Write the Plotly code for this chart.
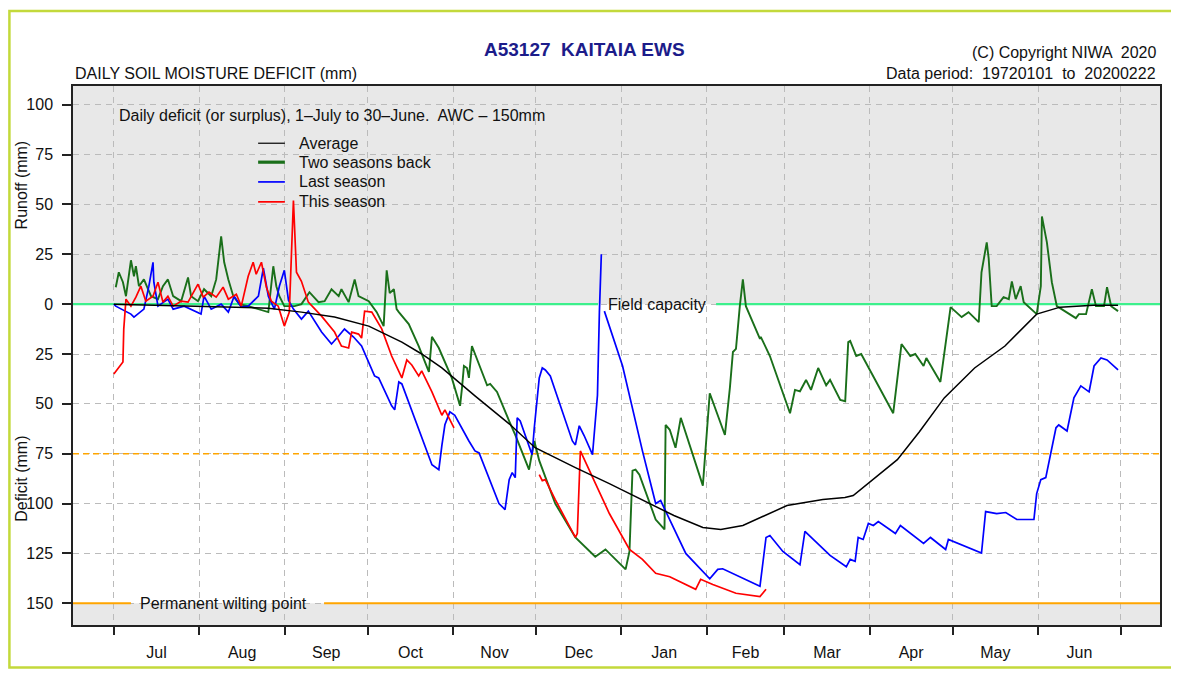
import plotly.graph_objects as go

# ---------------- data (days since 1 July, deficit negative / runoff positive) -------------
months = ["Jul", "Aug", "Sep", "Oct", "Nov", "Dec", "Jan", "Feb", "Mar", "Apr", "May", "Jun"]
month_len = [31, 31, 30, 31, 30, 31, 31, 28, 31, 30, 31, 30]

y_ticks = [-150, -125, -100, -75, -50, -25, 0, 25, 50, 75, 100]

series_names = ["Average", "Two seasons back", "Last season", "This season"]

avg_day = [0, 31.6, 56, 68, 80, 92.4, 104.4, 111.6, 118.9, 130.9, 143.3, 152.7, 167.3, 179.6,
           191.6, 203, 213.5, 220, 228, 237.8, 244, 257, 265, 268, 275, 284, 292, 301, 312,
           323, 334.5, 343, 355, 364]
avg_val = [0, -1, -2, -4, -6.5, -11, -19, -25, -32, -46, -60, -72, -82, -90,
           -98, -106, -112, -113, -111, -105, -101, -98, -97, -96, -88, -78, -64, -47, -32,
           -21, -5, -1.5, -0.5, -0.5]

two_day = [0.7, 1.8, 3.3, 4.4, 6.2, 7.3, 8, 9.1, 10.9, 13.5, 16, 17.8, 19.6, 21.5, 24.4, 26.9,
           28, 30.5, 32.7, 35.3, 37.1, 38.9, 40, 41.5, 43.3, 45.5, 48.7, 52.4, 56, 57.8, 58.9,
           60, 61.8, 65.5, 68, 70.9, 74.2, 76.4, 78.9, 81.5, 82.5, 85.1, 87.3, 88.7, 92.4,
           95.3, 97.8, 98.9, 100, 101.5, 102.5, 103.3, 106.9, 110.5, 114.2, 115.3, 117.8,
           122.5, 125.5, 126.2, 126.9, 128, 128.7, 129.8, 135.3, 136.4, 138.9, 143.3, 145.5,
           150.5, 152.4, 154.2, 160, 167.3, 174.5, 178.2, 185.5, 186.9, 188, 189.1, 190.5,
           196.4, 199.6, 200, 201.5, 203.6, 205.5, 213.5, 216, 221.5, 223.3, 224.4, 225.5,
           226.9, 228, 229.1, 234.2, 234.5, 237.8, 245.1, 246.9, 248.7, 250.9, 252.7, 255.3,
           258.2, 259.6, 263.3, 265.1, 266.2, 266.9, 269.1, 270.9, 282.5, 285.5, 288.7, 290.5,
           293.5, 294.5, 299.6, 303.3, 307.3, 309.8, 313.5, 314.5, 316.4, 317.1, 318.2, 320,
           322.5, 324.4, 325.5, 326.9, 328.7, 329.8, 334.5, 336, 336.4, 338.2, 340, 341.8,
           348.7, 349.8, 352.4, 353.5, 354.5, 356, 358.9, 360, 361.5, 364]
two_val = [8.5, 16, 11, 4, 22, 14, 19, 9, 12.4, 4, 2.5, 9, 12.4, 4, 1.5, 13.4,
           4, 1.5, 7.5, 4, 12.4, 34, 21, 12.4, 4, 0, -1, -2.5, -4, 19, 9,
           4, -1, -1, 0, 6, 1, 1.5, 7.5, 4, 7.5, 1, 12.4, 4, 1.5,
           -4, -11, 17, 5.5, 7.5, -2.5, -4, -10, -21, -34, -16.4, -22,
           -37, -51, -42, -31, -32, -37, -21, -40.7, -40, -44, -58.6, -65.6,
           -83, -68.6, -78.5, -100, -117, -126.7, -123, -133, -124, -83.5, -83, -85.5,
           -108, -113, -60.6, -63, -72, -57, -91, -44.7, -65.6, -42, -24, -22.4,
           -1, 12.4, -1, -17.4, -16.4, -26, -54.7, -43, -43.7, -38, -43, -32,
           -40.7, -38, -48, -48.7, -19, -18.4, -26, -25, -54.7, -20, -26, -25,
           -31, -27, -39, -1.5, -6.5, -4, -9, 16, 31, 23, -1, -1,
           3.5, 2.5, 11.4, 2.5, 9, 1, -5, 9, 44, 31, 11, -1,
           -7, -5, -5, 1, 7.5, -1, -1, 8.5, -1, -3.5]

last_day = [0, 0.7, 6.2, 7.3, 10.9, 12.7, 14.2, 14.5, 16, 19.6, 21.5, 25.5, 31.6, 32.7, 35.3,
            38.9, 41.5, 43.6, 46.2, 48.7, 52.4, 54.2, 56, 58.2, 60, 61.8, 63.3, 65.1, 68, 70.5,
            75.3, 78.9, 81.5, 83.6, 86.9, 89.8, 94.5, 96, 100.7, 101.8, 103.3, 104.4, 115.3,
            117.8, 118.9, 120, 121.8, 123.6, 128.7, 130.9, 132.4, 139.6, 141.8, 143.3, 144.4,
            145.5, 146.2, 147.3, 151.6, 152.4, 154.2, 155.3, 156.4, 158.2, 166.2, 167.3, 168.7,
            170.5, 173.5, 175.3, 176, 176.7, None, 177.8, 184.4, 191.6, 196.4, 198.2, 201.5,
            207.3, 216, 218.9, 220.7, 224.4, 234.2, 236.4, 237.8, 242.5, 248.7, 250.5, 259.6,
            265.5, 266.9, 268.7, 269.8, 271.6, 273.5, 275.3, 277.1, 283.3, 285.1, 293.5, 296,
            301.5, 302.5, 314.5, 316, 320, 323.3, 327.3, 333.5, 334.5, 336, 337.8, 339.6, 341.5,
            342.5, 345.5, 348, 350.5, 353.5, 355.3, 357.8, 360, 364]
last_val = [0, -1, -5, -6.5, -2.5, 9, 21, 11, -1, 2.5, -2.5, -1, -5, 4, -2.5,
            0, -4, 4, -1.5, -1, 4, 18, 4, -2.5, 9, 17, 2, -2.5, -7.5, -3.5,
            -14, -20, -16, -12.5, -16.5, -21, -36, -37, -51, -53, -39, -40, -80.5,
            -83, -71, -60.5, -54, -55.7, -68.6, -73.6, -74.6, -100, -103, -88, -84.5,
            -87, -57, -58.6, -75.5, -62, -37, -32, -33, -36, -68.6, -70.6, -61,
            -66, -75.5, -45.7, -4, 25, None, -3.5, -31, -73.6, -100, -98.5, -108,
            -125, -137.7, -133, -132.7, -135, -141.5, -117, -116, -124, -130.7, -114, -126,
            -131.7, -128, -129, -117, -118, -110, -111, -109, -115, -111, -120, -117,
            -123, -118, -124.8, -104, -105, -104.5, -108, -108, -95, -88, -87, -75.5, -62,
            -60.6, -63.6, -47, -41, -44, -31, -27, -28, -33]

this_day = [0, 3.3, 3.6, 4.4, 6.2, 8, 9.8, 11.6, 14.2, 16, 17.8, 19.6, 21.5, 24.4, 26.9, 30.5,
            32.4, 34.5, 37.1, 39.6, 41.5, 44.4, 46.2, 48.7, 50.5, 51.6, 53.5, 55.3, 57.1, 59.6,
            61.8, 63.6, 65.1, 66.2, 68, 70.5, 75.3, 80, 82.5, 85.1, 86.2, 88.7, 89.8, 90.9,
            93.5, 97.1, 100.7, 104.4, 106.2, 108, 110.5, 111.6, 115.3, 118.9, 120, 123.3, None,
            154.2, 155.3, 156.4, 160, 167.3, 168, 169.1, 172.4, 179.6, 186.9, 191.6, 196.4,
            201.5, 210.9, 212.7, 217.1, 225.5, 234.2, 235.3, 236.4]
this_val = [-35, -29, -12.5, 2.5, -1, 3.5, 9, 1.5, 4, 11, 1, 4, -1, 1.5, 1, 10,
            3.5, 6, 3.5, 8.5, 2.5, 5, -1, 14, 21, 15, 21, 8.5, 1.5, -1,
            -11, -4, 52, 16, 11.5, 1, -6, -14, -21, -22, -14, -15, -17, -3.5,
            -4, -12.4, -26, -37, -28, -30.5, -36, -33.5, -44, -55.7, -53, -62, None,
            -85.5, -88.5, -88, -98, -117, -115, -73.6, -83.5, -105, -123, -128, -135,
            -136.7, -143, -138, -140.6, -145, -146.6, -145, -143]

FIELD_CAPACITY = 0
HALF_AWC = -75
WILTING_POINT = -150

# ---------------- derived axis positions ----------------
month_start = [sum(month_len[:i]) for i in range(len(month_len) + 1)]
month_mid = [month_start[i] + month_len[i] / 2 for i in range(len(month_len))]
y_text = [str(abs(v)) for v in y_ticks]

X_MIN, X_MAX = -14.8, 379.2
Y_MIN, Y_MAX = -160.9, 109.4

FONT = "Liberation Sans, Arial, Helvetica, sans-serif"
TXT = "#111111"
GREEN = "#1a6f1a"
FC_GREEN = "#3cf08c"
ORANGE = "#ffa500"
GRID = "#bbbbbb"

styles = {
    "Average": dict(color="#000000", width=1.5, legend_width=1.2),
    "Two seasons back": dict(color=GREEN, width=1.9, legend_width=3.2),
    "Last season": dict(color="#0000ff", width=1.7, legend_width=1.7),
    "This season": dict(color="#ff0000", width=1.7, legend_width=1.7),
}
series = {
    "Two seasons back": (two_day, two_val),
    "Last season": (last_day, last_val),
    "This season": (this_day, this_val),
    "Average": (avg_day, avg_val),
}

fig = go.Figure()
for name, (xs, ys) in series.items():
    st = styles[name]
    fig.add_trace(go.Scatter(x=xs, y=ys, mode="lines", name=name, connectgaps=False,
                             line=dict(color=st["color"], width=st["width"]), showlegend=False))
# invisible trace on overlay axis carrying the month-boundary ticks / grid
fig.add_trace(go.Scatter(x=[X_MIN, X_MAX], y=[None, None], xaxis="x2", yaxis="y",
                         showlegend=False, hoverinfo="skip"))

shapes = []
# white band between field capacity and wilting point
shapes.append(dict(type="rect", xref="x", yref="y", x0=X_MIN, x1=X_MAX, y0=WILTING_POINT,
                   y1=FIELD_CAPACITY, fillcolor="white", line=dict(width=0), layer="below"))
# field capacity line (broken by its label)
fc_gap = (175.5, 218.3)
for a, b in [(X_MIN, fc_gap[0]), (fc_gap[1], X_MAX)]:
    shapes.append(dict(type="line", xref="x", yref="y", x0=a, x1=b, y0=FIELD_CAPACITY,
                       y1=FIELD_CAPACITY, line=dict(color=FC_GREEN, width=2.2), layer="between"))
# half AWC dashed line
shapes.append(dict(type="line", xref="x", yref="y", x0=X_MIN, x1=X_MAX, y0=HALF_AWC, y1=HALF_AWC,
                   line=dict(color=ORANGE, width=1.6, dash="6px,4px"), layer="between"))
# wilting point line (broken by its label)
wp_gap = (6.2, 76.2)
for a, b in [(X_MIN, wp_gap[0]), (wp_gap[1], X_MAX)]:
    shapes.append(dict(type="line", xref="x", yref="y", x0=a, x1=b, y0=WILTING_POINT,
                       y1=WILTING_POINT, line=dict(color=ORANGE, width=2.2), layer="between"))
# outer yellow-green frame
shapes.append(dict(type="rect", xref="paper", yref="paper", x0=-0.0585, x1=1.0145,
                   y0=-0.079, y1=1.139, line=dict(color="#c3d93b", width=2.5)))

annotations = [
    dict(text="A53127  KAITAIA EWS", xref="paper", yref="paper", x=0.471, y=1.067,
         xanchor="center", yanchor="middle", showarrow=False,
         font=dict(family=FONT, size=19, color="#1c1c8a", weight="bold")),
    dict(text="(C) Copyright NIWA  2020", xref="paper", yref="paper", x=0.998, y=1.063,
         xanchor="right", yanchor="middle", showarrow=False, font=dict(family=FONT, size=16, color=TXT)),
    dict(text="Data period:  19720101  to  20200222", xref="paper", yref="paper", x=0.998, y=1.023,
         xanchor="right", yanchor="middle", showarrow=False, font=dict(family=FONT, size=16, color=TXT)),
    dict(text="DAILY SOIL MOISTURE DEFICIT (mm)", xref="paper", yref="paper", x=0.0, y=1.023,
         xanchor="left", yanchor="middle", showarrow=False, font=dict(family=FONT, size=16, color=TXT)),
    dict(text="Daily deficit (or surplus), 1\u2013July to 30\u2013June.  AWC \u2013 150mm", xref="x", yref="y",
         x=1.2, y=94.6, xanchor="left", yanchor="middle", showarrow=False,
         font=dict(family=FONT, size=16, color=TXT)),
    dict(text="Field capacity", xref="x", yref="y", x=178.4, y=FIELD_CAPACITY, xanchor="left",
         yanchor="middle", showarrow=False, font=dict(family=FONT, size=16, color=TXT)),
    dict(text="Permanent wilting point", xref="x", yref="y", x=8.8, y=WILTING_POINT, xanchor="left",
         yanchor="middle", showarrow=False, font=dict(family=FONT, size=16, color=TXT)),
    dict(text="Runoff (mm)", xref="paper", yref="y", x=-0.047, y=60, textangle=-90,
         xanchor="center", yanchor="middle", showarrow=False, font=dict(family=FONT, size=16, color=TXT)),
    dict(text="Deficit (mm)", xref="paper", yref="y", x=-0.047, y=-87.6, textangle=-90,
         xanchor="center", yanchor="middle", showarrow=False, font=dict(family=FONT, size=16, color=TXT)),
]

# hand-placed legend (line sample + label), top-to-bottom
legend_x0, legend_x1, legend_tx = 52.3, 62.0, 66.4
legend_y = [80.7, 71.2, 61.3, 51.3]
for name, ly in zip(series_names, legend_y):
    st = styles[name]
    shapes.append(dict(type="line", xref="x", yref="y", x0=legend_x0, x1=legend_x1, y0=ly, y1=ly,
                       line=dict(color=st["color"], width=st["legend_width"])))
    annotations.append(dict(text=name, xref="x", yref="y", x=legend_tx, y=ly, xanchor="left",
                            yanchor="middle", showarrow=False,
                            font=dict(family=FONT, size=16, color=TXT)))

fig.update_layout(
    width=1171, height=665,
    margin=dict(l=65, r=19, t=78, b=43),
    paper_bgcolor="white",
    plot_bgcolor="#e8e8e8",
    font=dict(family=FONT, size=16, color=TXT),
    showlegend=False,
    shapes=shapes,
    annotations=annotations,
    xaxis=dict(range=[X_MIN, X_MAX], tickmode="array", tickvals=month_mid, ticktext=months,
               ticks="", showgrid=False, zeroline=False, showline=True, mirror=True,
               linecolor="#222", linewidth=1.5, ticklabelstandoff=12,
               tickfont=dict(family=FONT, size=16, color=TXT)),
    xaxis2=dict(range=[X_MIN, X_MAX], overlaying="x", side="bottom", tickmode="array",
                tickvals=month_start, ticktext=[""] * len(month_start), ticks="outside",
                ticklen=9, tickwidth=1.5, tickcolor="#222", showgrid=True, gridcolor=GRID,
                griddash="6px,5px", gridwidth=1, zeroline=False, showline=False),
    yaxis=dict(range=[Y_MIN, Y_MAX], tickmode="array", tickvals=y_ticks, ticktext=y_text,
               ticks="outside", ticklen=9, tickwidth=1.5, tickcolor="#222", showgrid=True,
               gridcolor=GRID, griddash="6px,5px", gridwidth=1, zeroline=False, showline=True,
               mirror=True, linecolor="#222", linewidth=1.5, ticklabelstandoff=6,
               tickfont=dict(family=FONT, size=16, color=TXT)),
)

fig.write_html("out.html")
